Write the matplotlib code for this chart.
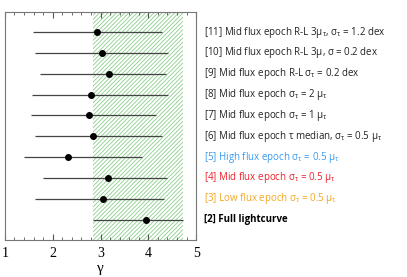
#!/usr/bin/env python

import numpy as np
import matplotlib.pyplot as plt
from matplotlib.ticker import MultipleLocator

plt.rcParams["mathtext.default"] = "regular"
plt.rcParams["hatch.linewidth"] = 0.6

rows = [11, 10, 9, 8, 7, 6, 5, 4, 3, 2]
gamma = [2.92, 3.04, 3.18, 2.81, 2.75, 2.85, 2.32, 3.15, 3.06, 3.96]
lower = [1.58, 1.63, 1.74, 1.57, 1.55, 1.62, 1.41, 1.79, 1.62, 2.85]
upper = [4.29, 4.41, 4.37, 4.42, 4.16, 4.28, 3.86, 4.40, 4.33, 4.73]
labels = [
    r"[11] Mid flux epoch R-L 3$\mu_\tau$, $\sigma_\tau$ = 1.2 dex",
    r"[10] Mid flux epoch R-L 3$\mu$, $\sigma$ = 0.2 dex",
    r"[9] Mid flux epoch R-L $\sigma_\tau$ = 0.2 dex",
    r"[8] Mid flux epoch $\sigma_\tau$ = 2 $\mu_\tau$",
    r"[7] Mid flux epoch $\sigma_\tau$ = 1 $\mu_\tau$",
    r"[6] Mid flux epoch $\tau$ median, $\sigma_\tau$ = 0.5 $\mu_\tau$",
    r"[5] High flux epoch $\sigma_\tau$ = 0.5 $\mu_\tau$",
    r"[4] Mid flux epoch $\sigma_\tau$ = 0.5 $\mu_\tau$",
    r"[3] Low flux epoch $\sigma_\tau$ = 0.5 $\mu_\tau$",
    "[2] Full lightcurve",
]
label_colors = ["#222222"] * 6 + ["#3a9bf0", "#f0202a", "#f5a623", "black"]


def plot_gamma():
    fig = plt.figure(figsize=(4.07, 2.77), dpi=100)
    ax = fig.add_axes([0.012, 0.134, 0.47, 0.823])

    # banda del ajuste a la curva completa
    ax.axvspan(lower[-1], upper[-1], facecolor="none", edgecolor="#8ccc8c",
               hatch="////////", lw=0)

    g = np.array(gamma)
    err = [g - np.array(lower), np.array(upper) - g]
    ax.errorbar(g, rows, xerr=err, fmt="o", color="black", ms=4,
                ecolor="#444444", elinewidth=0.9, capsize=0)

    ax.set_xlim(1, 5)
    ax.set_ylim(1.03, 11.97)
    ax.xaxis.set_major_locator(MultipleLocator(1))
    ax.xaxis.set_minor_locator(MultipleLocator(0.2))
    ax.tick_params(axis="x", which="both", direction="in", top=True,
                   color="#555555", labelsize=10, pad=5)
    ax.tick_params(axis="x", which="major", length=4)
    ax.tick_params(axis="x", which="minor", length=2)
    ax.set_yticks([])
    for lbl in ax.get_xticklabels():
        lbl.set_family("Liberation Serif")
    for sp in ax.spines.values():
        sp.set_color("#777777")
        sp.set_linewidth(0.8)
    ax.set_xlabel(r"$\gamma$", family="Liberation Serif", fontsize=11,
                  labelpad=2.5)
    ax.xaxis.label.set_math_fontfamily("stix")

    trans = ax.get_yaxis_transform()
    for y, text, c in zip(rows, labels, label_colors):
        weight = "bold" if y == 2 else "normal"
        ax.text(1.042, y, text, transform=trans, color=c, fontsize=7.0,
                family="Open Sans", weight=weight, va="center", ha="left")

    fig.savefig("out.png", dpi=100)


if __name__ == "__main__":
    plot_gamma()
